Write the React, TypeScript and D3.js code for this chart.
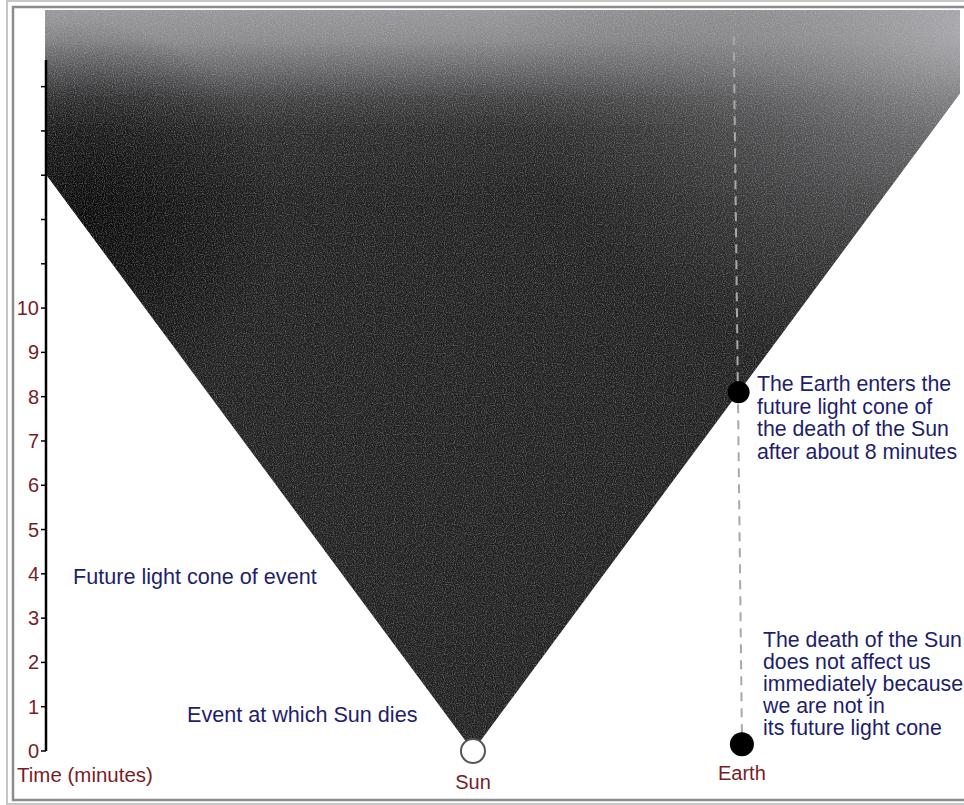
import React from "react";
import * as d3 from "d3";

// ---- data ----
const xDomain = [-13.05, 14.85]; // light-minutes from the Sun
const tDomain = [0, 16.73]; // minutes
const tickLabels = [0, 1, 2, 3, 4, 5, 6, 7, 8, 9, 10];
const tickMarks = [0, 1, 2, 3, 4, 5, 6, 7, 8, 9, 10, 11, 12, 13, 14, 15];
const axisTop = 15.6;
const sunEvent = { x: 0, t: 0 };
const earthNow = { x: 8.2, t: 0.15 };
const earthEnters = { x: 8.1, t: 8.1 };
const earthWorldline = [
  { x: 8.2, t: 0.4 },
  { x: 7.95, t: 16.2 },
];
const enterNote = [
  "The Earth enters the",
  "future light cone of",
  "the death of the Sun",
  "after about 8 minutes",
];
const notAffectedNote = [
  "The death of the Sun",
  "does not affect us",
  "immediately because",
  "we are not in",
  "its future light cone",
];

const W = 964;
const H = 805;
const FONT = "'Liberation Sans', Arial, Helvetica, sans-serif";
const BLUE = "#1e1e6c";
const RED = "#7a1c26";

export default function App() {
  const x = d3.scaleLinear().domain(xDomain).range([45, 960]);
  const y = d3.scaleLinear().domain(tDomain).range([751, 10]);

  const [x0, x1] = xDomain;
  const tTop = tDomain[1];
  const conePts: [number, number][] = [
    [sunEvent.x, sunEvent.t],
    [x0, sunEvent.t + (sunEvent.x - x0)],
    [x0, tTop],
    [x1, tTop],
    [x1, sunEvent.t + (x1 - sunEvent.x)],
  ];
  const line = d3
    .line<[number, number]>()
    .x((d) => x(d[0]))
    .y((d) => y(d[1]));
  const conePath = line(conePts) + "Z";

  const wl = d3
    .line<{ x: number; t: number }>()
    .x((d) => x(d.x))
    .y((d) => y(d.t));

  const axisX = x(x0) + 1;

  return (
    <svg
      width={W}
      height={H}
      style={{ position: "absolute", left: 0, top: 0, background: "#fff" }}
      fontFamily={FONT}
    >
      <defs>
        <linearGradient id="coneGrad" gradientUnits="userSpaceOnUse" x1={470} y1={0} x2={470} y2={200}>
          <stop offset="0" stopColor="#9c9ca0" />
          <stop offset="0.2" stopColor="#8a8a8c" />
          <stop offset="0.35" stopColor="#666668" />
          <stop offset="0.5" stopColor="#3e3e3e" />
          <stop offset="0.65" stopColor="#2a2a2a" />
          <stop offset="1" stopColor="#202020" />
        </linearGradient>
        <radialGradient
          id="rightLight"
          gradientUnits="userSpaceOnUse"
          cx={980}
          cy={30}
          r={480}
          gradientTransform="translate(980 30) scale(1 0.75) translate(-980 -30)"
        >
          <stop offset="0" stopColor="#b2b2b6" stopOpacity="0.8" />
          <stop offset="0.4" stopColor="#8c8c8e" stopOpacity="0.5" />
          <stop offset="1" stopColor="#555" stopOpacity="0" />
        </radialGradient>
        <radialGradient id="leftDark" gradientUnits="userSpaceOnUse" cx={80} cy={220} r={200}>
          <stop offset="0" stopColor="#000" stopOpacity="0.75" />
          <stop offset="1" stopColor="#000" stopOpacity="0" />
        </radialGradient>
        <clipPath id="coneClip">
          <path d={conePath} />
        </clipPath>
        <filter id="grain" x="0" y="0" width="100%" height="100%">
          <feTurbulence type="fractalNoise" baseFrequency="0.9" numOctaves="1" seed="4" />
          <feColorMatrix
            type="matrix"
            values="0 0 0 0 0.6  0 0 0 0 0.6  0 0 0 0 0.68  2.6 0 0 0 -1.1"
          />
        </filter>
      </defs>

      {/* frame */}
      <rect x={7} y={1} width={1000} height={803} fill="none" stroke="#c6c6c6" strokeWidth={2} />
      <rect x={13} y={7} width={1000} height={793} fill="none" stroke="#8c8c8c" strokeWidth={2.5} />

      {/* future light cone */}
      <path d={conePath} fill="url(#coneGrad)" />
      <g clipPath="url(#coneClip)">
        <rect x={0} y={0} width={W} height={H} fill="url(#rightLight)" />
        <rect x={0} y={0} width={W} height={H} fill="url(#leftDark)" />
        <rect x={0} y={0} width={W} height={H} filter="url(#grain)" opacity={0.4} />
      </g>

      {/* Earth world line */}
      <path
        d={wl(earthWorldline) || ""}
        fill="none"
        stroke="#a8a8a8"
        strokeWidth={2}
        strokeDasharray="9 7"
      />

      {/* time axis */}
      <line x1={axisX} x2={axisX} y1={y(0)} y2={y(axisTop)} stroke="#000" strokeWidth={2.5} />
      {tickMarks.map((t) => (
        <line key={t} x1={axisX - 5} x2={axisX} y1={y(t)} y2={y(t)} stroke="#000" strokeWidth={1.5} />
      ))}
      {tickLabels.map((t) => (
        <text key={t} x={39} y={y(t) + 7} textAnchor="end" fontSize={20} fill={RED}>
          {t}
        </text>
      ))}
      <text x={17} y={782} fontSize={20.5} fill={RED}>
        Time (minutes)
      </text>

      {/* annotations */}
      <text x={73} y={584} fontSize={21.6} fill={BLUE}>
        Future light cone of event
      </text>
      <text x={187} y={722} fontSize={21.6} fill={BLUE}>
        Event at which Sun dies
      </text>
      <text x={757} y={391} fontSize={21.3} fill={BLUE}>
        {enterNote.map((s, i) => (
          <tspan key={i} x={757} dy={i === 0 ? 0 : 22.7}>
            {s}
          </tspan>
        ))}
      </text>
      <text x={763} y={647} fontSize={21.3} fill={BLUE}>
        {notAffectedNote.map((s, i) => (
          <tspan key={i} x={763} dy={i === 0 ? 0 : 22}>
            {s}
          </tspan>
        ))}
      </text>

      {/* events */}
      <circle cx={x(earthEnters.x)} cy={y(earthEnters.t)} r={11} fill="#000" />
      <circle cx={x(earthNow.x)} cy={y(earthNow.t)} r={12} fill="#000" />
      <circle cx={x(sunEvent.x)} cy={y(sunEvent.t)} r={12} fill="#fff" stroke="#555" strokeWidth={2} />

      <text x={x(sunEvent.x)} y={789} textAnchor="middle" fontSize={20} fill={RED}>
        Sun
      </text>
      <text x={x(earthNow.x)} y={780} textAnchor="middle" fontSize={20} fill={RED}>
        Earth
      </text>
    </svg>
  );
}
